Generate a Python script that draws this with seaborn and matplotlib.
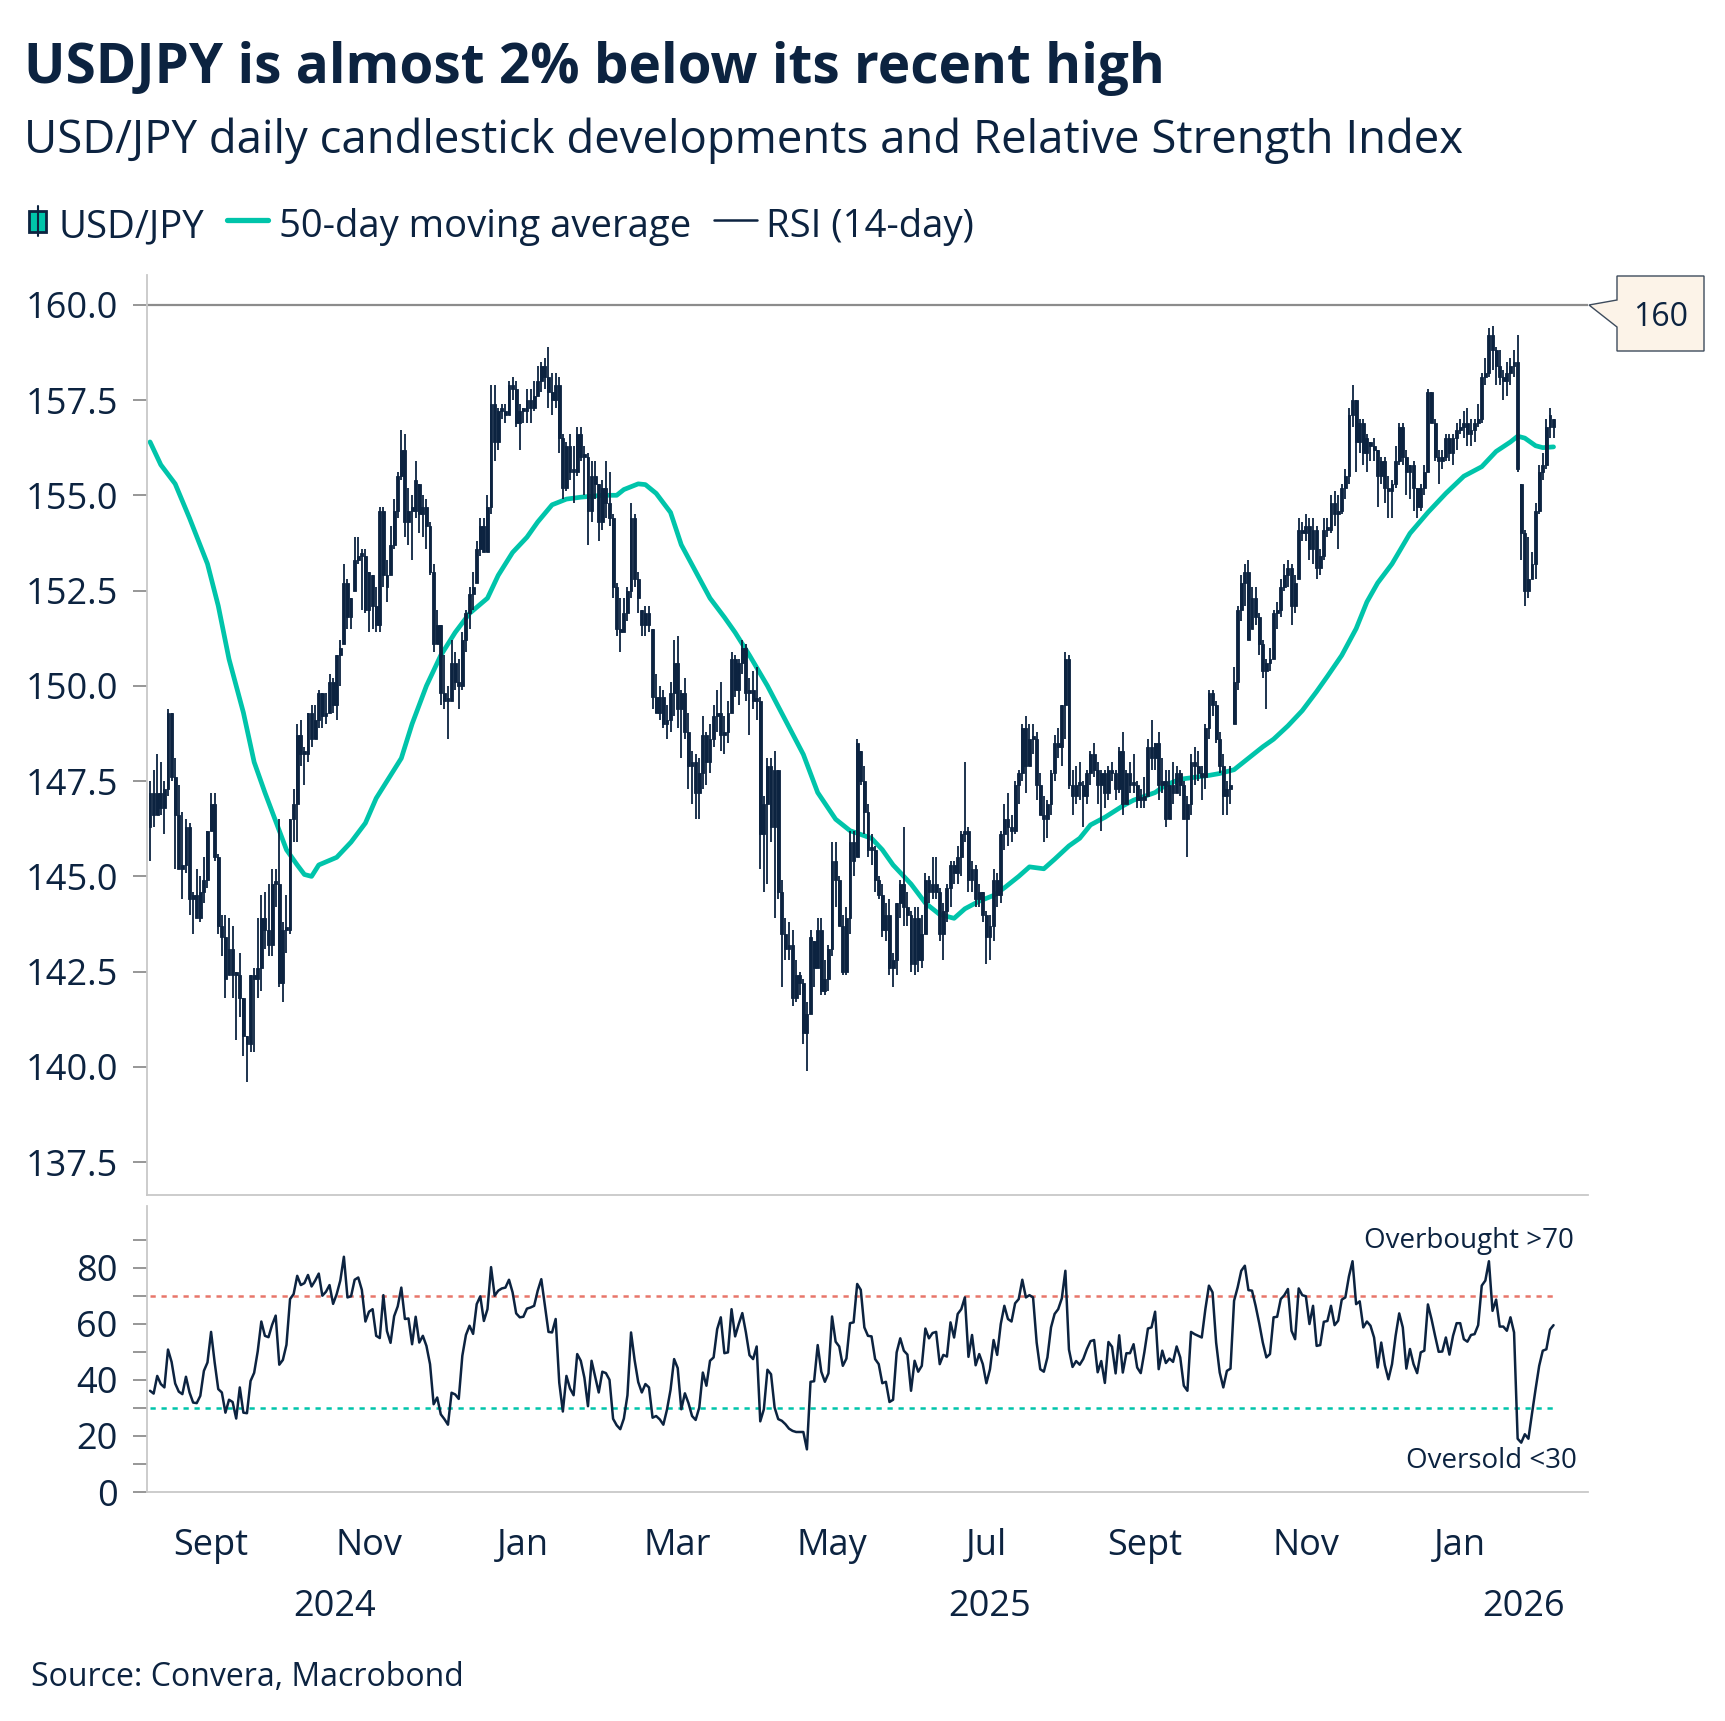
import numpy as np
import pandas as pd
import matplotlib
matplotlib.use("Agg")
import matplotlib.pyplot as plt
import matplotlib.transforms as mtransforms
from matplotlib.patches import Polygon, Rectangle
from matplotlib.lines import Line2D
import seaborn as sns

NAVY = "#0c2340"
TEAL = "#00c4aa"
RED = "#e8766a"
GREY = "#8c8c8c"
SPINE = "#c8c8c8"

start_date = "2024-08-08"
end_date = "2026-02-06"
first_open = 146.3

# daily candles: (low, high, close), open taken from previous close
aug24 = [(145.4, 147.5, 147.2), (146.3, 147.8, 146.6), (146.6, 148.2, 147.2), (146.6, 148.0, 146.8),
         (146.1, 147.5, 147.3), (147.1, 149.4, 149.3), (147.5, 149.3, 147.6), (145.2, 148.1, 146.6),
         (145.2, 147.4, 145.2), (144.4, 146.7, 145.3), (145.1, 146.5, 146.3), (144.0, 146.4, 144.4),
         (143.5, 144.6, 144.5), (143.9, 145.2, 143.9), (143.8, 145.0, 144.6), (144.3, 145.5, 144.9),
         (144.7, 146.2, 146.2)]
sep24 = [(146.2, 147.2, 146.9), (145.4, 147.2, 145.5), (143.5, 145.6, 143.7), (142.9, 144.0, 143.4),
         (141.8, 144.0, 142.3), (142.4, 143.9, 143.1), (141.8, 143.7, 142.4), (140.7, 142.5, 142.4),
         (141.3, 143.0, 141.8), (140.3, 141.8, 140.8), (139.6, 140.8, 140.6), (140.4, 142.4, 142.4),
         (140.4, 142.6, 142.3), (141.8, 143.9, 142.6), (142.0, 144.5, 143.9), (143.1, 144.6, 143.6),
         (142.9, 144.8, 143.2), (142.9, 145.2, 144.8), (144.2, 145.2, 144.8), (142.1, 146.5, 142.2),
         (141.7, 143.8, 143.6)]
oct24 = [(143.0, 144.5, 143.6), (143.5, 146.5, 146.5), (145.9, 147.3, 146.9), (145.9, 149.0, 148.7),
         (147.9, 149.1, 148.2), (147.4, 148.4, 148.2), (148.0, 149.3, 149.3), (148.4, 149.5, 148.6),
         (148.6, 149.5, 149.1), (148.9, 149.9, 149.8), (148.9, 149.8, 149.2), (149.0, 149.8, 149.3),
         (149.3, 150.3, 150.1), (149.3, 150.2, 149.5), (149.1, 150.8, 150.8), (150.0, 151.2, 151.0),
         (151.1, 153.2, 152.7), (151.5, 152.8, 151.8), (151.5, 152.3, 152.3), (152.5, 153.9, 153.3),
         (153.2, 153.9, 153.4), (152.0, 153.6, 153.4), (151.9, 153.6, 152.0)]
nov24 = [(151.4, 153.0, 153.0), (151.5, 152.9, 152.1), (151.4, 152.6, 151.6), (151.4, 154.7, 154.6),
         (152.6, 154.7, 152.9), (152.2, 153.3, 152.6), (152.9, 154.2, 153.7), (153.6, 154.9, 154.6),
         (154.4, 155.6, 155.5), (155.4, 156.7, 156.2), (153.9, 156.6, 154.3), (153.7, 155.2, 154.6),
         (153.3, 155.0, 154.6), (154.4, 155.9, 155.4), (154.0, 155.3, 154.5), (153.9, 155.0, 154.7),
         (153.6, 154.9, 154.2), (152.9, 154.3, 153.0), (150.9, 153.2, 151.1), (151.1, 152.0, 151.6),
         (149.5, 151.6, 149.8)]
dec24 = [(149.4, 150.8, 149.6), (148.6, 150.0, 149.6), (149.6, 151.2, 150.6), (149.9, 150.9, 150.1),
         (149.4, 150.7, 150.0), (149.9, 151.4, 151.2), (150.9, 152.0, 151.9), (151.5, 152.6, 152.4),
         (152.0, 153.0, 152.6), (152.7, 153.8, 153.6), (153.4, 154.4, 154.2), (153.5, 154.4, 153.5),
         (153.5, 155.0, 154.7), (154.5, 157.9, 157.4), (155.9, 157.9, 156.4), (156.2, 157.3, 157.2),
         (157.0, 157.4, 157.2), (156.9, 157.4, 157.1), (157.1, 158.0, 157.9), (157.5, 158.1, 157.8),
         (156.8, 158.0, 156.9), (156.2, 157.4, 157.2)]
jan25 = [(156.9, 157.3, 157.2), (156.9, 157.8, 157.5), (156.9, 157.8, 157.3), (157.2, 158.0, 157.6),
         (157.6, 158.4, 158.0), (157.7, 158.5, 158.4), (157.8, 158.6, 158.1), (157.3, 158.9, 157.7),
         (157.1, 158.2, 157.5), (157.3, 158.2, 157.9), (156.1, 158.1, 156.5), (154.9, 156.6, 155.2),
         (155.1, 156.4, 156.3), (155.4, 156.6, 155.6), (154.8, 156.3, 155.6), (155.5, 156.8, 156.6),
         (155.9, 156.8, 156.0), (155.0, 156.3, 156.0), (153.7, 156.1, 154.6), (154.3, 155.9, 155.5),
         (154.9, 155.9, 155.3), (153.8, 155.3, 154.3), (154.1, 155.4, 155.2)]
feb25 = [(154.4, 155.9, 154.8), (154.2, 155.6, 154.4), (152.3, 154.5, 152.6), (151.3, 152.7, 151.5),
         (150.9, 152.3, 151.4), (151.4, 152.3, 151.9), (151.7, 152.6, 152.5), (152.3, 154.8, 154.4),
         (152.6, 154.5, 152.8), (151.9, 153.0, 152.3), (151.3, 152.0, 151.6), (151.3, 152.1, 151.9),
         (151.4, 152.1, 151.6), (149.4, 151.5, 149.7), (149.3, 150.3, 149.3), (149.1, 150.0, 149.7),
         (148.9, 149.9, 149.0), (148.6, 149.5, 149.1), (148.8, 150.1, 149.8), (149.2, 151.2, 150.6)]
mar25 = [(148.9, 151.3, 149.4), (148.1, 149.9, 149.8), (148.6, 150.2, 148.8), (147.3, 149.3, 147.9),
         (146.9, 148.3, 148.0), (146.5, 148.2, 147.2), (146.5, 148.1, 147.7), (147.3, 149.2, 148.7),
         (147.4, 148.8, 148.0), (147.7, 149.0, 148.6), (148.4, 149.5, 149.2), (148.8, 149.9, 149.3),
         (148.3, 150.1, 148.7), (148.2, 149.2, 148.8), (148.5, 149.6, 149.3), (149.3, 150.9, 150.7),
         (149.7, 150.8, 149.9), (149.5, 150.7, 150.6), (150.3, 151.2, 151.0), (149.6, 151.1, 149.8),
         (148.7, 150.2, 149.9)]
apr25 = [(149.4, 150.4, 149.6), (149.1, 150.5, 149.6), (145.2, 149.7, 146.1), (144.6, 147.1, 146.9),
         (144.8, 148.1, 147.9), (145.9, 148.1, 146.3), (143.9, 148.3, 147.8), (144.4, 147.8, 144.6),
         (142.1, 144.9, 143.5), (142.8, 143.9, 143.1), (142.8, 143.8, 143.2), (141.6, 143.6, 141.8),
         (141.7, 142.8, 142.4), (141.9, 142.5, 142.2), (140.6, 142.3, 140.9), (139.9, 141.7, 141.4),
         (141.4, 143.6, 143.4), (142.1, 143.3, 142.6), (142.6, 143.9, 143.6), (141.9, 143.9, 142.0),
         (141.9, 142.8, 142.3), (142.0, 143.2, 143.1)]
may25 = [(142.9, 145.9, 145.4), (144.2, 145.9, 144.9), (143.7, 145.0, 143.7), (142.4, 144.0, 142.5),
         (142.4, 144.2, 143.9), (143.5, 146.2, 145.9), (145.0, 146.2, 145.4), (145.5, 148.6, 148.5),
         (147.4, 148.3, 147.5), (146.1, 147.9, 146.7), (145.5, 146.9, 145.7), (145.3, 146.1, 145.7),
         (144.6, 145.8, 144.9), (144.4, 145.0, 144.5), (143.4, 144.8, 143.6), (143.3, 144.3, 144.0),
         (142.4, 144.4, 142.6), (142.1, 143.0, 142.8), (142.4, 144.3, 144.3), (143.9, 144.9, 144.8),
         (143.7, 146.3, 144.2), (143.7, 144.6, 144.0)]
jun25 = [(142.5, 144.1, 142.7), (142.4, 144.2, 143.9), (142.5, 144.2, 142.8), (142.6, 144.0, 143.5),
         (143.5, 145.1, 144.9), (144.3, 145.0, 144.6), (144.4, 145.5, 144.8), (144.4, 145.5, 144.6),
         (143.3, 144.7, 143.5), (142.8, 144.3, 144.1), (143.8, 144.8, 144.7), (144.2, 145.4, 145.3),
         (144.8, 145.4, 145.1), (144.8, 145.8, 145.5), (145.0, 146.2, 146.1), (145.9, 148.0, 146.2),
         (144.6, 146.3, 144.9), (144.6, 145.4, 145.2), (144.2, 145.3, 144.4), (144.2, 144.8, 144.6),
         (143.8, 144.6, 144.0)]
jul25 = [(142.7, 144.1, 143.4), (142.8, 144.0, 143.7), (143.3, 145.2, 144.9), (144.2, 145.1, 144.5),
         (144.3, 146.2, 146.1), (145.7, 146.9, 146.5), (145.8, 147.2, 146.3), (145.9, 146.6, 146.2),
         (146.1, 147.5, 147.4), (146.9, 147.8, 147.7), (147.5, 149.0, 148.9), (147.2, 149.2, 147.9),
         (147.9, 149.0, 148.6), (148.2, 149.0, 148.6), (147.0, 148.8, 147.4), (146.6, 147.7, 146.6),
         (145.9, 147.1, 146.5), (146.0, 147.0, 146.9), (146.6, 147.8, 147.7), (147.5, 148.7, 148.5),
         (148.1, 148.9, 148.4), (147.9, 149.5, 149.5), (148.6, 150.9, 150.7)]
aug25 = [(147.3, 150.8, 147.4), (146.6, 147.8, 147.1), (146.9, 147.9, 147.4), (147.0, 148.0, 147.4),
         (146.3, 147.5, 147.1), (146.9, 147.8, 147.7), (147.4, 148.3, 148.2), (147.6, 148.5, 147.8),
         (146.9, 148.0, 147.4), (146.2, 147.8, 147.7), (146.8, 147.8, 147.2), (147.0, 147.9, 147.8),
         (147.5, 148.0, 147.7), (147.0, 147.8, 147.3), (147.2, 148.4, 148.3), (146.6, 148.8, 146.9),
         (146.9, 147.8, 147.7), (147.2, 148.0, 147.4), (147.2, 148.2, 147.4), (146.8, 147.5, 147.0),
         (146.8, 147.3, 147.0)]
sep25 = [(146.8, 147.6, 147.1), (147.1, 148.6, 148.4), (147.8, 149.1, 148.1), (147.8, 148.5, 148.5),
         (147.0, 148.8, 147.4), (147.2, 148.1, 147.5), (146.3, 147.8, 146.5), (146.5, 147.8, 147.4),
         (146.9, 148.0, 147.2), (147.2, 147.9, 147.7), (147.1, 147.8, 147.4), (146.5, 147.5, 146.5),
         (145.5, 147.1, 146.9), (146.6, 148.2, 148.0), (147.4, 148.4, 147.9), (147.5, 148.3, 147.7),
         (147.0, 147.9, 147.6), (147.3, 149.0, 148.9), (148.6, 149.9, 149.8), (149.2, 149.9, 149.5),
         (148.5, 149.6, 148.6), (147.7, 148.8, 147.9)]
oct25 = [(146.6, 148.2, 147.1), (146.6, 147.5, 147.3), (146.9, 147.9, 147.4), (149.0, 150.5, 150.1),
         (149.9, 152.1, 152.0), (151.7, 152.9, 152.7), (152.1, 153.2, 153.0), (151.2, 153.3, 151.2),
         (151.5, 152.6, 152.3), (151.6, 152.6, 151.8), (150.8, 151.9, 151.1), (150.2, 151.2, 150.4),
         (149.4, 150.7, 150.6), (150.4, 151.0, 150.7), (150.7, 152.0, 151.9), (151.5, 152.2, 152.0),
         (151.8, 152.8, 152.6), (152.5, 153.2, 152.9), (152.6, 153.3, 153.1), (151.6, 153.2, 152.1),
         (151.9, 152.9, 152.7), (152.8, 154.4, 154.1), (153.8, 154.3, 154.0)]
nov25 = [(153.8, 154.5, 154.2), (153.3, 154.4, 153.6), (153.2, 154.4, 154.1), (152.8, 154.2, 153.1),
         (152.9, 153.6, 153.4), (153.3, 154.4, 154.1), (153.9, 154.4, 154.1), (154.0, 155.0, 154.8),
         (154.2, 155.1, 154.5), (153.6, 155.0, 154.6), (154.5, 155.3, 155.2), (154.9, 155.7, 155.5),
         (155.3, 157.3, 157.1), (156.8, 157.9, 157.5), (155.6, 157.5, 156.4), (156.1, 157.0, 156.9),
         (155.8, 157.0, 156.1), (155.6, 156.6, 156.5), (155.9, 156.4, 156.3), (155.9, 156.5, 156.2)]
dec25 = [(154.7, 156.2, 155.5), (155.3, 156.0, 155.9), (154.8, 156.0, 155.2), (154.4, 155.5, 155.1),
         (154.4, 155.4, 155.3), (155.2, 156.3, 155.9), (155.8, 156.9, 156.8), (155.8, 156.9, 156.0),
         (155.0, 156.2, 155.6), (154.9, 155.8, 155.8), (154.6, 155.9, 155.2), (154.4, 155.2, 154.7),
         (154.6, 155.3, 155.2), (155.0, 155.8, 155.6), (155.6, 157.8, 157.7), (156.9, 157.7, 156.9),
         (155.9, 157.0, 156.0), (155.3, 156.2, 155.9), (155.7, 156.2, 156.0), (155.9, 156.6, 156.5),
         (155.9, 156.6, 156.1), (155.8, 156.6, 156.5), (156.2, 156.9, 156.7)]
jan26 = [(156.6, 157.0, 156.8), (156.5, 157.2, 156.9), (156.3, 157.3, 156.6), (156.3, 157.0, 156.7),
         (156.4, 157.0, 156.9), (156.8, 157.4, 157.0), (156.9, 158.2, 158.1), (157.9, 158.6, 158.2),
         (158.1, 159.4, 159.2), (158.3, 159.45, 158.8), (157.9, 158.9, 158.4), (157.9, 158.8, 158.1),
         (157.5, 158.3, 158.0), (157.6, 158.5, 158.2), (157.9, 158.6, 158.4), (158.1, 158.8, 158.5),
         (155.6, 159.2, 155.7), (153.3, 155.3, 154.0), (152.1, 154.1, 152.5), (152.3, 153.9, 152.8),
         (152.8, 153.5, 153.2), (152.8, 154.8, 154.6)]
feb26 = [(154.5, 155.8, 155.6), (155.4, 156.1, 155.8), (155.7, 157.0, 156.8), (156.5, 157.3, 157.1),
         (156.5, 157.0, 156.8)]

# 50-day moving average
ma_dates = ["2024-08-08", "2024-08-13", "2024-08-19", "2024-08-23", "2024-08-30", "2024-09-04",
            "2024-09-09", "2024-09-13", "2024-09-18", "2024-09-23", "2024-09-27", "2024-10-01",
            "2024-10-04", "2024-10-08", "2024-10-10", "2024-10-14", "2024-10-21", "2024-10-25",
            "2024-10-31", "2024-11-05", "2024-11-08", "2024-11-14", "2024-11-19", "2024-11-25",
            "2024-11-29", "2024-12-05", "2024-12-11", "2024-12-18", "2024-12-23", "2024-12-27",
            "2025-01-02", "2025-01-07", "2025-01-13", "2025-01-17", "2025-01-23", "2025-01-31",
            "2025-02-06", "2025-02-10", "2025-02-14", "2025-02-18", "2025-02-21", "2025-02-27",
            "2025-03-04", "2025-03-10", "2025-03-14", "2025-03-20", "2025-03-25", "2025-03-31",
            "2025-04-07", "2025-04-14", "2025-04-21", "2025-04-25", "2025-05-02", "2025-05-08",
            "2025-05-16", "2025-05-21", "2025-05-26", "2025-06-02", "2025-06-06", "2025-06-12",
            "2025-06-18", "2025-06-23", "2025-06-27", "2025-07-03", "2025-07-08", "2025-07-14",
            "2025-07-17", "2025-07-23", "2025-07-28", "2025-08-01", "2025-08-06", "2025-08-11",
            "2025-08-15", "2025-08-22", "2025-08-27", "2025-09-01", "2025-09-04", "2025-09-09",
            "2025-09-15", "2025-09-19", "2025-09-25", "2025-09-30", "2025-10-06", "2025-10-10",
            "2025-10-16", "2025-10-21", "2025-10-27", "2025-10-31", "2025-11-06", "2025-11-11",
            "2025-11-17", "2025-11-21", "2025-11-26", "2025-12-01", "2025-12-05", "2025-12-12",
            "2025-12-19", "2025-12-26", "2026-01-02", "2026-01-09", "2026-01-15", "2026-01-21",
            "2026-01-23", "2026-01-27", "2026-01-30", "2026-02-03", "2026-02-06"]
ma_values = [156.4, 155.8, 155.3, 154.4, 153.2, 152.1,
             150.7, 149.3, 148.0, 147.2, 146.2, 145.7,
             145.3, 145.05, 145.0, 145.3, 145.5, 145.9,
             146.4, 147.05, 147.5, 148.1, 149.0, 150.0,
             150.8, 151.4, 151.9, 152.3, 152.9, 153.5,
             153.9, 154.3, 154.75, 154.9, 154.95, 155.0,
             155.0, 155.15, 155.3, 155.28, 155.05, 154.55,
             153.7, 153.0, 152.3, 151.8, 151.4, 150.8,
             150.0, 149.1, 148.2, 147.2, 146.5, 146.2,
             146.0, 145.7, 145.3, 144.8, 144.3, 144.0,
             143.9, 144.15, 144.35, 144.5, 144.7, 145.0,
             145.25, 145.2, 145.45, 145.8, 146.0, 146.35,
             146.55, 146.85, 147.0, 147.1, 147.2, 147.4,
             147.55, 147.6, 147.65, 147.7, 147.8, 148.1,
             148.4, 148.6, 148.95, 149.35, 149.85, 150.25,
             150.8, 151.5, 152.2, 152.7, 153.2, 154.0,
             154.55, 155.05, 155.5, 155.75, 156.15, 156.4,
             156.55, 156.5, 156.3, 156.25, 156.27]

# RSI (14-day), one value per trading day
rsi_aug24 = [36.1, 35.1, 41.4, 38.5, 37.3, 50.8, 46.4, 38.7, 35.8, 34.9, 41.1, 35.5, 31.9, 31.7, 34.3, 43.2, 46.2]
rsi_sep24 = [57.1, 46.2, 36.7, 35.5, 28.3, 32.9, 32.1, 26.2, 37.3, 28.3, 28.1, 39.6, 42.5, 50.2, 60.8, 55.7,
             55.2, 59.6, 62.9, 45.4, 47.1]
rsi_oct24 = [52.5, 68.8, 70.6, 77.1, 73.8, 74.5, 77.4, 73.3, 75.4, 77.9, 70.0, 71.4, 73.8, 67.1, 70.6, 75.4,
             83.9, 69.4, 69.8, 75.7, 76.5, 72.1, 60.8]
rsi_nov24 = [64.3, 65.2, 55.7, 54.9, 70.2, 57.4, 53.2, 62.7, 66.2, 72.9, 61.7, 61.9, 52.7, 62.5, 53.3, 55.7,
             52.1, 45.6, 31.3, 33.7, 27.7]
rsi_dec24 = [26.0, 24.0, 35.4, 34.8, 33.2, 48.6, 56.0, 59.3, 56.4, 67.0, 69.8, 61.0, 65.2, 80.2, 70.0, 71.8,
             72.6, 72.9, 75.7, 71.2, 63.7, 62.3]
rsi_jan25 = [62.5, 65.4, 65.8, 66.4, 71.8, 75.9, 66.4, 57.1, 56.9, 61.7, 39.0, 28.7, 41.4, 36.9, 34.5, 49.2,
             46.8, 40.8, 30.6, 46.8, 41.2, 35.5, 42.9]
rsi_feb25 = [42.4, 40.0, 26.1, 23.8, 22.4, 26.2, 34.5, 56.9, 47.0, 39.2, 35.5, 38.5, 37.3, 26.5, 27.1, 25.9,
             24.0, 29.3, 36.4, 47.4]
rsi_mar25 = [44.2, 29.5, 35.2, 31.7, 27.1, 25.7, 30.1, 42.6, 37.9, 46.8, 48.0, 58.1, 62.3, 49.5, 49.8, 65.2,
             55.5, 59.9, 63.8, 56.9, 48.8]
rsi_apr25 = [47.4, 51.9, 25.2, 29.5, 43.6, 42.0, 30.1, 26.0, 25.4, 24.2, 22.6, 21.8, 21.4, 21.4, 21.4, 15.2,
             39.3, 39.5, 52.4, 42.9, 39.3, 42.3]
rsi_may25 = [62.6, 53.6, 51.9, 45.0, 47.6, 60.2, 60.5, 74.2, 72.1, 58.7, 55.7, 55.5, 47.4, 45.6, 38.8, 39.3,
             32.1, 32.9, 49.8, 54.8, 50.4, 49.0]
rsi_jun25 = [36.1, 46.8, 42.9, 45.0, 58.3, 54.8, 56.7, 57.1, 45.6, 48.9, 48.3, 60.5, 55.1, 63.5, 65.2, 69.4,
             48.2, 56.0, 45.2, 49.2, 45.6]
rsi_jul25 = [38.8, 43.8, 54.2, 48.9, 59.9, 66.4, 61.7, 60.8, 67.3, 68.8, 75.7, 69.4, 70.2, 69.4, 53.3, 43.8,
             42.9, 48.0, 58.7, 63.5, 65.2, 69.0, 78.9]
rsi_aug25 = [50.8, 44.6, 46.7, 45.4, 47.5, 51.0, 53.8, 54.2, 42.7, 46.7, 38.9, 53.5, 51.8, 42.3, 55.9, 42.6,
             49.5, 49.5, 52.7, 44.4, 42.4]
rsi_sep25 = [49.8, 58.3, 58.7, 64.3, 43.8, 50.4, 46.0, 47.6, 46.4, 51.9, 48.0, 37.9, 36.1, 57.1, 56.3, 55.7,
             55.1, 65.2, 73.6, 71.2, 53.3, 42.6]
rsi_oct25 = [37.3, 43.2, 44.0, 68.2, 73.0, 78.9, 80.7, 72.0, 71.8, 66.4, 60.2, 53.3, 48.0, 49.2, 62.3, 62.5,
             68.8, 70.2, 72.4, 57.5, 54.5, 72.6, 70.2]
rsi_nov25 = [69.8, 59.9, 66.4, 52.1, 52.4, 60.7, 61.0, 66.4, 59.5, 61.1, 68.6, 69.4, 76.9, 82.3, 67.0, 68.0,
             58.7, 60.8, 59.3, 55.1]
rsi_dec25 = [44.4, 53.3, 45.2, 40.2, 45.6, 55.7, 63.7, 58.7, 44.0, 51.0, 45.6, 42.4, 49.8, 50.4, 66.9, 61.7,
             55.7, 50.0, 50.1, 55.1, 49.0, 55.7, 60.2]
rsi_jan26 = [60.2, 54.5, 53.6, 56.0, 56.3, 59.5, 73.6, 75.4, 82.3, 64.6, 68.6, 59.0, 59.0, 57.5, 62.3, 56.9,
             19.0, 17.6, 20.6, 19.0, 28.0, 36.7]
rsi_feb26 = [45.0, 50.4, 50.9, 57.9, 59.5]

month_ticks = ["2024-09-01", "2024-11-01", "2025-01-01", "2025-03-01", "2025-05-01",
               "2025-07-01", "2025-09-01", "2025-11-01", "2026-01-01"]
month_labels = ["Sept", "Nov", "Jan", "Mar", "May", "Jul", "Sept", "Nov", "Jan"]
year_labels = ["2024", "2025", "2026"]

title = "USDJPY is almost 2% below its recent high"
subtitle = "USD/JPY daily candlestick developments and Relative Strength Index"
source = "Source: Convera, Macrobond"

# ---- assemble ----
months = [aug24, sep24, oct24, nov24, dec24, jan25, feb25, mar25, apr25, may25, jun25,
          jul25, aug25, sep25, oct25, nov25, dec25, jan26, feb26]
rsi_months = [rsi_aug24, rsi_sep24, rsi_oct24, rsi_nov24, rsi_dec24, rsi_jan25, rsi_feb25,
              rsi_mar25, rsi_apr25, rsi_may25, rsi_jun25, rsi_jul25, rsi_aug25, rsi_sep25,
              rsi_oct25, rsi_nov25, rsi_dec25, rsi_jan26, rsi_feb26]

dates = pd.bdate_range(start_date, end_date)
df = pd.DataFrame([row for m in months for row in m], columns=["low", "high", "close"])
df["rsi"] = [v for m in rsi_months for v in m]
df["x"] = np.arange(len(df))
prev_close = np.r_[first_open, df["close"].values[:-1]]
df["open"] = np.clip(prev_close, df["low"], df["high"])
assert len(df) == len(dates)

ma_x = dates.searchsorted(pd.to_datetime(ma_dates))

sns.set_style("white")
plt.rcParams["font.family"] = ["Open Sans", "DejaVu Sans"]

W, H = 1725, 1721
fig = plt.figure(figsize=(W / 100, H / 100), dpi=100)


def fx(px):
    return px / W


def fy(py):
    return 1 - py / H


ax_p = fig.add_axes([fx(147), fy(1195), fx(1588) - fx(147), fy(275) - fy(1195)])
ax_r = fig.add_axes([fx(147), fy(1492), fx(1588) - fx(147), fy(1206) - fy(1492)])
xlim = (-0.85, 400.6)

# price panel
ax_p.axhline(160, color=GREY, lw=1.6, zorder=1)
sns.lineplot(x=ma_x, y=ma_values, ax=ax_p, color=TEAL, lw=3.4, zorder=2)
ax_p.vlines(df["x"], df["low"], df["high"], color=NAVY, lw=1.3, zorder=3)
body_lo = np.minimum(df["open"], df["close"])
body_h = np.maximum(np.abs(df["close"] - df["open"]), 0.08)
ax_p.bar(df["x"], body_h, bottom=body_lo, width=0.8, color=NAVY,
         edgecolor=NAVY, linewidth=0.6, zorder=4)
ax_p.set_xlim(*xlim)
ax_p.set_ylim(136.64, 160.78)
ax_p.set_yticks(np.arange(137.5, 160.01, 2.5))
ax_p.set_yticklabels([f"{v:.1f}" for v in np.arange(137.5, 160.01, 2.5)])
ax_p.set_xticks([])
ax_p.set_xlabel("")
ax_p.set_ylabel("")

# RSI panel
sns.lineplot(x=df["x"], y=df["rsi"], ax=ax_r, color=NAVY, lw=1.8, zorder=3)
ax_r.hlines(70, 0, len(df) - 1, color=RED, lw=1.8, linestyle=(0, (2.1, 2.3)), zorder=2)
ax_r.hlines(30, 0, len(df) - 1, color=TEAL, lw=1.8, linestyle=(0, (2.1, 2.3)), zorder=2)
ax_r.set_xlim(*xlim)
ax_r.set_ylim(0, 102)
ax_r.set_yticks([0, 20, 40, 60, 80])
ax_r.set_yticks([10, 30, 50, 70, 90], minor=True)
ax_r.set_xlabel("")
ax_r.set_ylabel("")
ax_r.text(396.8, 87.1, "Overbought >70", ha="right", va="baseline", fontsize=20, color=NAVY)
ax_r.text(397.5, 8.4, "Oversold <30", ha="right", va="baseline", fontsize=20, color=NAVY)

tick_x = dates.searchsorted(pd.to_datetime(month_ticks))
jan_x = [x for x, lab in zip(tick_x, month_labels) if lab == "Jan"]
other_x = [x for x, lab in zip(tick_x, month_labels) if lab != "Jan"]
ax_r.set_xticks(jan_x)
ax_r.set_xticks(other_x, minor=True)
ax_r.tick_params(axis="x", which="major", length=10, width=1.2, color="#555555", labelbottom=False)
ax_r.tick_params(axis="x", which="minor", length=4.5, width=1.2, color="#555555", labelbottom=False)

for ax in (ax_p, ax_r):
    for side in ("top", "right"):
        ax.spines[side].set_visible(False)
    for side in ("left", "bottom"):
        ax.spines[side].set_color(SPINE)
        ax.spines[side].set_linewidth(1.3)
    ax.tick_params(axis="y", which="both", left=True, length=10, width=1.1, color="#7a7a7a",
                   labelsize=26, labelcolor=NAVY, pad=11)

blend = mtransforms.blended_transform_factory(ax_r.transData, fig.transFigure)
for x, lab in zip(tick_x, month_labels):
    ax_r.text(x, fy(1555), lab, transform=blend, ha="center", va="baseline", fontsize=26, color=NAVY)

year_start = dates.searchsorted(pd.to_datetime(["2025-01-01", "2026-01-01"]))
bounds = [xlim[0], year_start[0] - 0.5, year_start[1] - 0.5, xlim[1]]
for i, lab in enumerate(year_labels):
    ax_r.text((bounds[i] + bounds[i + 1]) / 2, fy(1616), lab, transform=blend, ha="center",
              va="baseline", fontsize=26, color=NAVY)

# titles
fig.text(fx(24), fy(83), title, fontsize=39.5, fontweight="bold", color=NAVY, va="baseline")
fig.text(fx(24), fy(153), subtitle, fontsize=32.8, color=NAVY, va="baseline")
fig.text(fx(31), fy(1686), source, fontsize=23, color=NAVY, va="baseline")

# legend
fig.add_artist(Line2D([fx(37.5), fx(37.5)], [fy(206), fy(236)], color=NAVY, lw=1.5,
                      transform=fig.transFigure))
fig.add_artist(Rectangle((fx(29), fy(232)), fx(17), fy(211) - fy(232), transform=fig.transFigure,
                         facecolor=TEAL, edgecolor=NAVY, lw=2.0))
fig.text(fx(58), fy(237), "USD/JPY", fontsize=27.5, color=NAVY, va="baseline")
fig.add_artist(Line2D([fx(227), fx(268)], [fy(220), fy(220)], color=TEAL, lw=3.8,
                      transform=fig.transFigure))
fig.text(fx(279), fy(237), "50-day moving average", fontsize=27.5, color=NAVY, va="baseline")
fig.add_artist(Line2D([fx(714), fx(757)], [fy(220), fy(220)], color=NAVY, lw=1.8,
                      transform=fig.transFigure))
fig.text(fx(766), fy(237), "RSI (14-day)", fontsize=27.5, color=NAVY, va="baseline")

# 160 callout
pts = [(1617, 276), (1704, 276), (1704, 351), (1617, 351), (1617, 327), (1589, 305), (1617, 300)]
fig.add_artist(Polygon([(fx(a), fy(b)) for a, b in pts], closed=True, transform=fig.transFigure,
                       facecolor="#fcf3e8", edgecolor="#3d4b5c", lw=1.0))
fig.text(fx(1661), fy(318), "160", fontsize=23, color=NAVY, ha="center", va="center")

fig.savefig("out.png", dpi=100)
